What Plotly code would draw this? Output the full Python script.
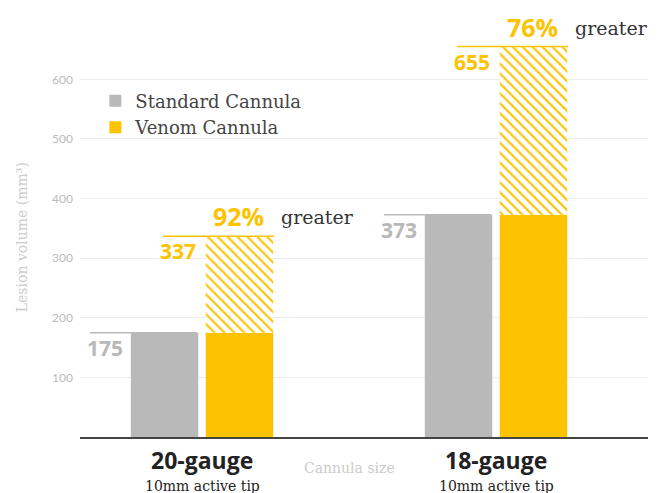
import plotly.graph_objects as go

categories = ["20-gauge", "18-gauge"]
subtitles = ["10mm active tip", "10mm active tip"]
standard = [175, 373]
venom = [337, 655]
pct_labels = ["92%", "76%"]
ytick_vals = [100, 200, 300, 400, 500, 600]
ytick_text = ["100", "200", "300", "400", "500", "600"]

GREY = "#b9b9b9"
GREY_TXT = "#b8b8b8"
YELLOW = "#fdc300"
SANS = "Open Sans"
SERIF = "DejaVu Serif"

extra = [v - s for v, s in zip(venom, standard)]

fig = go.Figure()
fig.add_trace(go.Bar(x=categories, y=standard, name="Standard Cannula",
                     marker=dict(color=GREY, line=dict(width=0)), offsetgroup="s"))
fig.add_trace(go.Bar(x=categories, y=standard, name="Venom Cannula",
                     marker=dict(color=YELLOW, line=dict(width=0)), offsetgroup="v"))
fig.add_trace(go.Bar(x=categories, y=extra, base=standard, name="Venom extra", showlegend=False,
                     marker=dict(color=YELLOW, line=dict(width=0),
                                 pattern=dict(shape="\\", fillmode="replace", fgcolor=YELLOW,
                                              bgcolor="white", size=7, solidity=0.3)),
                     offsetgroup="v"))

shapes = []
annotations = []
for i, cat in enumerate(categories):
    shapes.append(dict(type="line", xref="x", yref="y", x0=i - 0.381, x1=i - 0.017,
                       y0=standard[i], y1=standard[i], line=dict(color=GREY, width=1.5)))
    shapes.append(dict(type="line", xref="x", yref="y", x0=i - 0.133, x1=i + 0.245,
                       y0=venom[i], y1=venom[i], line=dict(color=YELLOW, width=1.5)))
    annotations.append(dict(x=i - 0.262, y=standard[i], xref="x", yref="y", text=str(standard[i]),
                            showarrow=False, xanchor="right", yanchor="middle", yshift=-15,
                            font=dict(family=SANS, size=21, color=GREY_TXT, weight="bold")))
    annotations.append(dict(x=i - 0.012, y=venom[i], xref="x", yref="y", text=str(venom[i]),
                            showarrow=False, xanchor="right", yanchor="middle", yshift=-15,
                            font=dict(family=SANS, size=21, color=YELLOW, weight="bold")))
    annotations.append(dict(x=i + 0.218, y=venom[i], xref="x", yref="y", text=pct_labels[i],
                            showarrow=False, xanchor="right", yanchor="middle", yshift=20,
                            font=dict(family=SANS, size=25, color=YELLOW, weight="bold")))
    annotations.append(dict(x=i + 0.262, y=venom[i], xref="x", yref="y", text="greater",
                            showarrow=False, xanchor="left", yanchor="middle", yshift=19,
                            font=dict(family=SERIF, size=19, color="#333333")))
    annotations.append(dict(x=i, y=-0.054, xref="x", yref="paper", text=cat,
                            showarrow=False, xanchor="center", yanchor="middle",
                            font=dict(family=SANS, size=23, color="#222222", weight="bold")))
    annotations.append(dict(x=i, y=-0.115, xref="x", yref="paper", text=subtitles[i],
                            showarrow=False, xanchor="center", yanchor="middle",
                            font=dict(family=SERIF, size=14, color="#222222")))

annotations.append(dict(x=0.5, y=-0.072, xref="x", yref="paper", text="Cannula size",
                        showarrow=False, xanchor="center", yanchor="middle",
                        font=dict(family=SERIF, size=14, color="#cccccc")))
annotations.append(dict(x=-0.102, y=0.468, xref="paper", yref="paper", text="Lesion volume (mm³)",
                        showarrow=False, textangle=-90, xanchor="center", yanchor="middle",
                        font=dict(family=SERIF, size=14, color="#cccccc")))

fig.update_layout(
    width=660, height=485,
    margin=dict(l=72, r=20, t=2, b=56),
    paper_bgcolor="white", plot_bgcolor="white",
    barmode="group", bargap=0.49, bargroupgap=0.1,
    showlegend=True,
    legend=dict(x=0.027, y=0.83, xanchor="left", yanchor="top", bgcolor="rgba(0,0,0,0)",
                font=dict(family=SERIF, size=18, color="#444444"), tracegroupgap=0,
                traceorder="normal"),
    xaxis=dict(range=[-0.415, 1.517], showticklabels=False, showgrid=False, zeroline=False,
               showline=True, linecolor="#444444", linewidth=1.5, ticks=""),
    yaxis=dict(range=[0, 716.4], tickvals=ytick_vals, ticktext=ytick_text, showgrid=True,
               gridcolor="#ececec", gridwidth=1, zeroline=False, showline=False, ticks="",
               ticklabelstandoff=6,
               tickfont=dict(family="Lato", size=12, color="#bbbbbb")),
    shapes=shapes,
    annotations=annotations,
)

fig.write_html("out.html")
